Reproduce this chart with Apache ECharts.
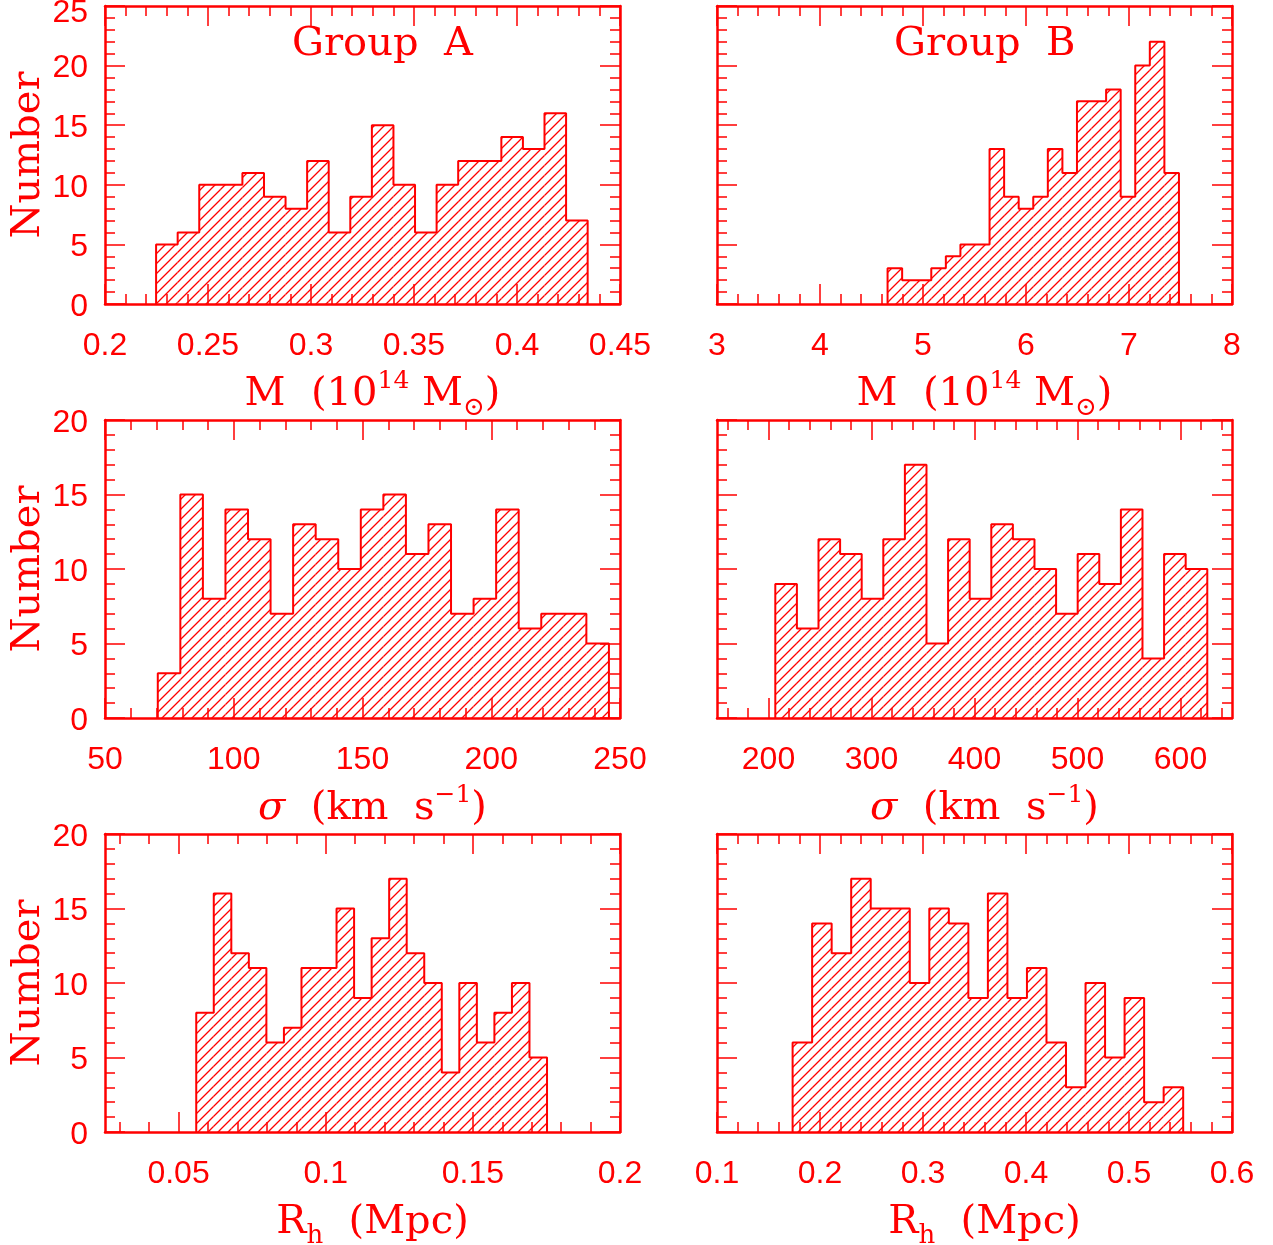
<!DOCTYPE html>
<html>
<head>
<meta charset="utf-8">
<script src="https://cdn.jsdelivr.net/npm/echarts@6/dist/echarts.min.js"></script>
<style>
  html, body { margin: 0; padding: 0; background: #fff; }
  #chart { width: 1273px; height: 1245px; }
</style>
</head>
<body>
<div id="chart"></div>
<script>
// counts per bin, 20 bins each
const massA = [5, 6, 10, 10, 11, 9, 8, 12, 6, 9, 15, 10, 6, 10, 12, 12, 14, 13, 16, 7]
const massB = [3, 2, 2, 3, 4, 5, 5, 13, 9, 8, 9, 13, 11, 17, 17, 18, 9, 20, 22, 11]
const sigmaA = [3, 15, 8, 14, 12, 7, 13, 12, 10, 14, 15, 11, 13, 7, 8, 14, 6, 7, 7, 5]
const sigmaB = [9, 6, 12, 11, 8, 12, 17, 5, 12, 8, 13, 12, 10, 7, 11, 9, 14, 4, 11, 10]
const rhA = [8, 16, 12, 11, 6, 7, 11, 11, 15, 9, 13, 17, 12, 10, 4, 10, 6, 8, 10, 5]
const rhB = [6, 14, 12, 17, 15, 15, 10, 15, 14, 9, 16, 9, 11, 6, 3, 10, 5, 9, 2, 3]

// outer edges of the binned range [first, last]
const massABins = [0.2248, 0.4343]
const massBBins = [4.656, 7.485]
const sigmaABins = [70.5, 245.7]
const sigmaBBins = [206.6, 626.0]
const rhABins = [0.0560, 0.1752]
const rhBBins = [0.1734, 0.5526]

// tick labels
const massATicks = [0.2, 0.25, 0.3, 0.35, 0.4, 0.45]
const massBTicks = [3, 4, 5, 6, 7, 8]
const sigmaATicks = [50, 100, 150, 200, 250]
const sigmaBTicks = [200, 300, 400, 500, 600]
const rhATicks = [0.05, 0.1, 0.15, 0.2]
const rhBTicks = [0.1, 0.2, 0.3, 0.4, 0.5, 0.6]
const count25Ticks = [0, 5, 10, 15, 20, 25]
const count20Ticks = [0, 5, 10, 15, 20]

const RED = '#ff0000'
const SANS = "'Liberation Sans', Arial, sans-serif"
const SERIF = "'DejaVu Serif', 'Liberation Serif', serif"

const massName = '{n|M  (10}{sup|14}{n| M}{sub|⊙}{n|)}'
const sigmaName = '{it|σ}{n|  (km  s}{sup|−1}{n|)}'
const rhName = '{n|R}{sub|h}{n|  (Mpc)}'

const panels = [
  { counts: massA, bins: massABins, x: [0.2, 0.45], ticks: massATicks, minor: 0.01, y: [0, 25], yTicks: count25Ticks, name: massName, col: 0, row: 0 },
  { counts: massB, bins: massBBins, x: [3, 8], ticks: massBTicks, minor: 0.2, y: [0, 25], yTicks: count25Ticks, name: massName, col: 1, row: 0 },
  { counts: sigmaA, bins: sigmaABins, x: [50, 250], ticks: sigmaATicks, minor: 10, y: [0, 20], yTicks: count20Ticks, name: sigmaName, col: 0, row: 1 },
  { counts: sigmaB, bins: sigmaBBins, x: [150, 650], ticks: sigmaBTicks, minor: 20, y: [0, 20], yTicks: count20Ticks, name: sigmaName, col: 1, row: 1 },
  { counts: rhA, bins: rhABins, x: [0.025, 0.2], ticks: rhATicks, minor: 0.01, y: [0, 20], yTicks: count20Ticks, name: rhName, col: 0, row: 2 },
  { counts: rhB, bins: rhBBins, x: [0.1, 0.6], ticks: rhBTicks, minor: 0.02, y: [0, 20], yTicks: count20Ticks, name: rhName, col: 1, row: 2 }
]

// layout of the plot boxes
const colLeft = [105, 717]
const rowTop = [6, 420, 834]
const boxW = 515
const boxH = 298

// diagonal hatching used as fill
function makeHatch() {
  const c = document.createElement('canvas')
  c.width = 10
  c.height = 10
  const g = c.getContext('2d')
  g.strokeStyle = RED
  g.lineWidth = 1.3
  g.beginPath()
  g.moveTo(-2, 12); g.lineTo(12, -2)
  g.moveTo(-2, 2); g.lineTo(2, -2)
  g.moveTo(8, 12); g.lineTo(12, 8)
  g.stroke()
  return c
}
const hatch = { image: makeHatch(), repeat: 'repeat' }

function minorValues(range, step) {
  const out = []
  for (let k = Math.ceil(range[0] / step - 1e-6); k * step <= range[1] + 1e-9; k++) {
    out.push(+(k * step).toFixed(6))
  }
  return out
}

const richStyles = {
  n: { fontFamily: SERIF, fontSize: 40, lineHeight: 52, color: RED },
  it: { fontFamily: SERIF, fontSize: 40, lineHeight: 52, color: RED, fontStyle: 'italic' },
  sup: { fontFamily: SERIF, fontSize: 25, lineHeight: 25, color: RED, verticalAlign: 'top' },
  sub: { fontFamily: SERIF, fontSize: 26, lineHeight: 24, color: RED, verticalAlign: 'bottom' }
}

// y labels sit a little below their ticks; the top one is pushed down to stay on the page
const yLabelRich = {
  v: { color: RED, fontSize: 32, fontFamily: SANS, padding: [6, 0, 0, 0] },
  top: { color: RED, fontSize: 32, fontFamily: SANS, padding: [14, 0, 0, 0] }
}

const grids = []
const xAxes = []
const yAxes = []
const series = []

panels.forEach((p, gi) => {
  grids.push({ left: colLeft[p.col], top: rowTop[p.row], width: boxW, height: boxH, containLabel: false, outerBoundsMode: 'none' })

  const base = { type: 'value', gridIndex: gi, min: p.x[0], max: p.x[1], splitLine: { show: false } }
  const line = { show: true, onZero: false, lineStyle: { color: RED, width: 2.5 } }
  const noLine = { show: false, onZero: false }
  const minors = minorValues(p.x, p.minor)
  // bottom: major ticks, labels and name
  xAxes.push(Object.assign({}, base, {
    position: 'bottom',
    axisLine: line,
    axisTick: { show: true, inside: true, length: 20, customValues: p.ticks, lineStyle: { color: RED, width: 1.5 } },
    axisLabel: { show: true, customValues: p.ticks, margin: 26, color: RED, fontSize: 32, fontFamily: SANS },
    name: p.name,
    nameLocation: 'middle',
    nameGap: 65,
    nameTextStyle: { color: RED, fontFamily: SERIF, fontSize: 40, padding: [0, 0, 0, 20], rich: richStyles }
  }))
  xAxes.push(Object.assign({}, base, {
    position: 'bottom', axisLine: noLine,
    axisTick: { show: true, inside: true, length: 10, customValues: minors, lineStyle: { color: RED, width: 1.5 } },
    axisLabel: { show: false }
  }))
  xAxes.push(Object.assign({}, base, {
    position: 'top', axisLine: line,
    axisTick: { show: true, inside: true, length: 20, customValues: p.ticks, lineStyle: { color: RED, width: 1.5 } },
    axisLabel: { show: false }
  }))
  xAxes.push(Object.assign({}, base, {
    position: 'top', axisLine: noLine,
    axisTick: { show: true, inside: true, length: 10, customValues: minors, lineStyle: { color: RED, width: 1.5 } },
    axisLabel: { show: false }
  }))

  const ybase = { type: 'value', gridIndex: gi, min: p.y[0], max: p.y[1], splitLine: { show: false } }
  const yMinors = minorValues(p.y, 1)
  const leftCol = p.col === 0
  const yMax = p.y[1]
  yAxes.push(Object.assign({}, ybase, {
    position: 'left', axisLine: line,
    axisTick: { show: true, inside: true, length: 20, customValues: p.yTicks, lineStyle: { color: RED, width: 1.5 } },
    axisLabel: {
      show: leftCol, customValues: p.yTicks, margin: 17,
      formatter: v => (v === yMax && p.row === 0 ? '{top|' + v + '}' : '{v|' + v + '}'),
      rich: yLabelRich
    },
    name: leftCol ? 'Number' : '',
    nameLocation: 'middle',
    nameGap: 54,
    nameTextStyle: { color: RED, fontFamily: SERIF, fontSize: 40 }
  }))
  yAxes.push(Object.assign({}, ybase, {
    position: 'left', axisLine: noLine,
    axisTick: { show: true, inside: true, length: 10, customValues: yMinors, lineStyle: { color: RED, width: 1.5 } },
    axisLabel: { show: false }
  }))
  yAxes.push(Object.assign({}, ybase, {
    position: 'right', axisLine: line,
    axisTick: { show: true, inside: true, length: 20, customValues: p.yTicks, lineStyle: { color: RED, width: 1.5 } },
    axisLabel: { show: false }
  }))
  yAxes.push(Object.assign({}, ybase, {
    position: 'right', axisLine: noLine,
    axisTick: { show: true, inside: true, length: 10, customValues: yMinors, lineStyle: { color: RED, width: 1.5 } },
    axisLabel: { show: false }
  }))

  // bin edges from the binned range
  const n = p.counts.length
  const w = (p.bins[1] - p.bins[0]) / n
  const edges = []
  for (let i = 0; i <= n; i++) edges.push(p.bins[0] + i * w)

  const bars = p.counts.map((c, i) => [edges[i], edges[i + 1], c])
  const outline = [[edges[0], 0]]
  p.counts.forEach((c, i) => {
    outline.push([edges[i], c])
    outline.push([edges[i + 1], c])
  })
  outline.push([edges[n], 0])

  series.push({
    type: 'custom',
    xAxisIndex: gi * 4,
    yAxisIndex: gi * 4,
    data: bars,
    encode: { x: [0, 1], y: 2 },
    renderItem: (params, api) => {
      const a = api.coord([api.value(0), api.value(2)])
      const b = api.coord([api.value(1), 0])
      return {
        type: 'rect',
        shape: { x: a[0], y: a[1], width: b[0] - a[0], height: b[1] - a[1] },
        style: { fill: hatch }
      }
    },
    silent: true
  })
  series.push({
    type: 'line',
    xAxisIndex: gi * 4,
    yAxisIndex: gi * 4,
    data: outline,
    symbol: 'none',
    lineStyle: { color: RED, width: 2 },
    z: 5,
    silent: true
  })
})

const myChart = echarts.init(document.getElementById('chart'))
const option = {
  animation: false,
  backgroundColor: '#fff',
  grid: grids,
  xAxis: xAxes,
  yAxis: yAxes,
  series: series,
  graphic: [
    { type: 'text', left: 292, top: 25, style: { text: 'Group  A', fill: RED, font: "40px 'DejaVu Serif', serif" } },
    { type: 'text', left: 894, top: 25, style: { text: 'Group  B', fill: RED, font: "40px 'DejaVu Serif', serif" } }
  ]
}
option && myChart.setOption(option)
window.addEventListener('resize', () => {
  myChart.resize()
})
</script>
</body>
</html>
